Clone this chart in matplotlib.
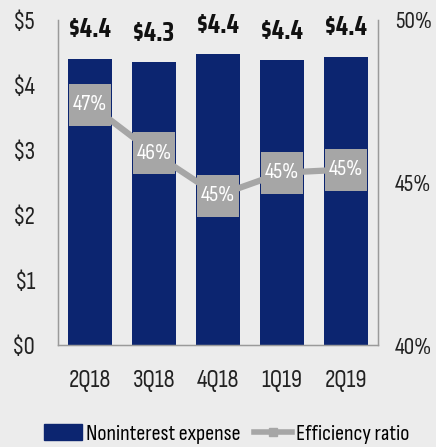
import matplotlib
matplotlib.use("Agg")
import matplotlib.pyplot as plt
from matplotlib.lines import Line2D
from matplotlib.patches import Patch

plt.rcParams['font.family'] = ['Sofia Sans Condensed', 'Liberation Sans', 'DejaVu Sans']

quarters = ["2Q18", "3Q18", "4Q18", "1Q19", "2Q19"]
expense = [4.40, 4.35, 4.47, 4.38, 4.43]
expense_labels = ["$4.4", "$4.3", "$4.4", "$4.4", "$4.4"]
efficiency = [47.4, 45.9, 44.6, 45.3, 45.4]
efficiency_labels = ["47%", "46%", "45%", "45%", "45%"]

BG = "#ececec"
NAVY = "#0c2570"
GRAY = "#a6a6a6"
SPINE = "#9a9a9a"

fig = plt.figure(figsize=(4.36, 4.47), dpi=100, facecolor=BG)
ax = fig.add_axes([58/436, 1 - 345/447, 320/436, 325/447])
ax.set_facecolor(BG)

x = list(range(len(quarters)))
ax.bar(x, expense, width=0.70, color=NAVY, zorder=2)
for i, (v, lab) in enumerate(zip(expense, expense_labels)):
    ax.annotate(lab, (i, v), xytext=(0, 21), textcoords="offset points",
                ha="center", va="center", fontsize=19, fontweight="bold",
                family=['Saira Condensed', 'Liberation Sans', 'DejaVu Sans'],
                color="#111111")

ax.set_xlim(-0.5, len(quarters) - 0.5)
ax.set_ylim(0, 5)
ax.set_yticks([0, 1, 2, 3, 4, 5])
ax.set_yticklabels([f"${t}" for t in range(6)])
ax.set_xticks(x)
ax.set_xticklabels(quarters)
ax.tick_params(axis="both", length=0, labelsize=18, colors="#222222")
ax.tick_params(axis="x", pad=17)
ax.tick_params(axis="y", pad=16)
ax.spines["top"].set_visible(False)
for s in ["left", "bottom", "right"]:
    ax.spines[s].set_color(SPINE)
    ax.spines[s].set_linewidth(1.0)

ax2 = ax.twinx()
ax2.set_ylim(40, 50)
ax2.set_yticks([40, 45, 50])
ax2.set_yticklabels(["40%", "45%", "50%"])
ax2.tick_params(axis="y", length=0, labelsize=17, colors="#222222", pad=12)
ax2.spines["top"].set_visible(False)
for s in ["left", "bottom", "right"]:
    ax2.spines[s].set_color(SPINE)
ax2.plot(x, efficiency, color=GRAY, linewidth=4.5, marker="s",
         markersize=30.5, markerfacecolor=GRAY, markeredgewidth=0, zorder=3)
for i, (v, lab) in enumerate(zip(efficiency, efficiency_labels)):
    ax2.text(i, v, lab, ha="center", va="center", fontsize=16,
             color="white", zorder=4)

handles = [Patch(facecolor=NAVY, edgecolor=NAVY),
           Line2D([0], [0], color=GRAY, linewidth=4, marker="s",
                  markersize=6, markerfacecolor=GRAY)]
fig.legend(handles, ["Noninterest expense", "Efficiency ratio"],
           loc="center", bbox_to_anchor=(0.52, 1 - 434/447), ncol=2,
           frameon=False, fontsize=16, handlelength=1.7, handleheight=0.7,
           handletextpad=0.2, columnspacing=0.6)

fig.savefig("out.png", dpi=100, facecolor=BG)
